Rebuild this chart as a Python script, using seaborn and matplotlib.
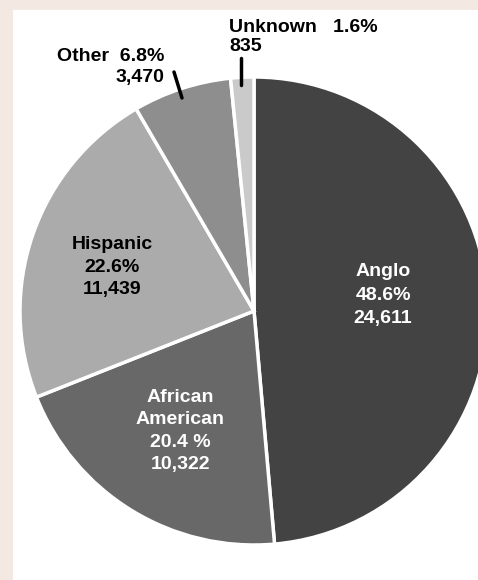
import matplotlib
matplotlib.use("Agg")
import matplotlib.pyplot as plt
import seaborn as sns

sns.set_theme(style="white")
plt.rcParams['font.family'] = ['Liberation Sans', 'DejaVu Sans']

categories = ["Anglo", "African American", "Hispanic", "Other", "Unknown"]
percents = [48.6, 20.4, 22.6, 6.8, 1.6]
counts = ["24,611", "10,322", "11,439", "3,470", "835"]
pct_labels = ["48.6%", "20.4 %", "22.6%", "6.8%", "1.6%"]
colors = ["#434343", "#686868", "#ababab", "#8e8e8e", "#cacaca"]

W, H = 478, 580
L, T = 13, 10
fig = plt.figure(figsize=(W / 100, H / 100), dpi=100)
fig.patch.set_facecolor("#f4e8e2")

ax = fig.add_axes([L / W, 0, 1 - L / W, 1 - T / H])
ax.set_facecolor("white")

def py(y):
    return H - y

cx, cy, R = 254, py(311), 234
ax.pie(percents, colors=colors, startangle=90, counterclock=False,
       center=(cx, cy), radius=R, frame=True,
       wedgeprops=dict(edgecolor="white", linewidth=2.5))
ax.set_xlim(L, W)
ax.set_ylim(0, H - T)
ax.set_aspect("equal")
ax.set_xticks([])
ax.set_yticks([])
for s in ax.spines.values():
    s.set_visible(False)

fs = 14
ax.text(383, py(295), f"{categories[0]}\n{pct_labels[0]}\n{counts[0]}",
        color="white", fontsize=fs, fontweight="bold", ha="center", va="center",
        linespacing=1.5)
ax.text(180, py(431), "African\nAmerican\n" + f"{pct_labels[1]}\n{counts[1]}",
        color="white", fontsize=fs, fontweight="bold", ha="center", va="center",
        linespacing=1.4)
ax.text(112, py(267), f"{categories[2]}\n{pct_labels[2]}\n{counts[2]}",
        color="black", fontsize=fs, fontweight="bold", ha="center", va="center",
        linespacing=1.45)
ax.text(164, py(67), f"{categories[3]}  {pct_labels[3]}\n{counts[3]}",
        color="black", fontsize=fs, fontweight="bold", ha="right", va="center",
        multialignment="right", linespacing=1.3)
ax.text(229, py(37), f"{categories[4]}   {pct_labels[4]}\n{counts[4]}",
        color="black", fontsize=fs, fontweight="bold", ha="left", va="center",
        multialignment="left", linespacing=1.15)

ax.plot([174, 182], [py(72), py(98)], color="black", lw=2.5)
ax.plot([241, 241], [py(58), py(85)], color="black", lw=2.5)

fig.savefig("out.png", dpi=100)
